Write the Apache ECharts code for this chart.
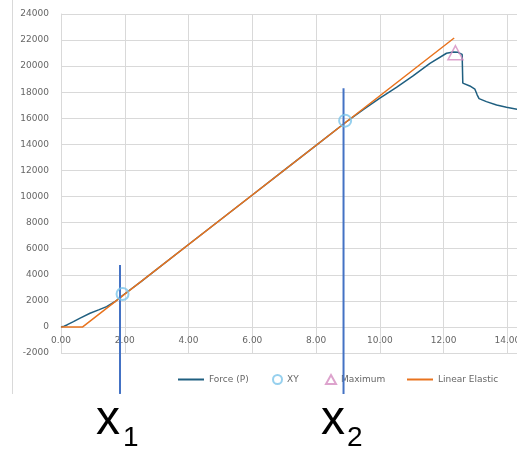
<!DOCTYPE html>
<html>
<head>
<meta charset="utf-8">
<script src="https://cdn.jsdelivr.net/npm/echarts@6/dist/echarts.min.js"></script>
<style>
html,body{margin:0;padding:0;background:#fff;}
#chart{width:517px;height:450px;}
</style>
</head>
<body>
<div id="chart"></div>
<script>
// ---- data ----
const forceData = [
  [0, 0], [0.1, 60], [0.2, 170], [0.39, 410], [0.6, 680], [0.91, 1050],
  [1.2, 1330], [1.43, 1560], [1.7, 1950], [1.95, 2450], [2.5, 3460],
  [3, 4410], [4, 6320], [5, 8220], [6, 10120], [7, 12030], [8, 13930],
  [9, 15830], [9.5, 16700], [10.0, 17540], [10.52, 18380], [11.04, 19250],
  [11.57, 20220], [12.09, 20990], [12.3, 21080], [12.45, 21060],
  [12.58, 20900], [12.6, 18700], [12.82, 18480], [12.98, 18230],
  [13.05, 17800], [13.11, 17510], [13.34, 17280], [13.66, 17020],
  [13.97, 16850], [14.3, 16700], [14.6, 16600]
];
const xyPoints = [[1.93, 2520], [8.91, 15820]];
const maximumPoint = [[12.37, 21030]];
const linearElastic = [[0, 0], [0.68, 0], [12.33, 22160]];
const marker1 = [[1.85, 4750], [1.85, -5140]];
const marker2 = [[8.86, 18310], [8.86, -5140]];
const xTicks = { min: 0, max: 14.3, interval: 2 };
const yTicks = { min: -2000, max: 24000, interval: 2000 };
const legendNames = ['Force (P)', 'XY', 'Maximum', 'Linear Elastic'];

const grey = '#666';
const gridColor = '#d9d9d9';
const labelFont = 'DejaVu Sans';
const gridTop = 14, gridBottom = 97, chartH = 450;

const chart = echarts.init(document.getElementById('chart'), null, { renderer: 'canvas' });

function legendAt(item, left, w, h, top) {
  return {
    data: [item], left: left, top: top, itemWidth: w, itemHeight: h, itemGap: 0,
    padding: 0,
    textStyle: { fontSize: 9, color: grey, fontFamily: labelFont }
  };
}

// distance of the zero line above the bottom of the plot (from the axis scale)
const plotH = chartH - gridTop - gridBottom;
const zeroOffset = (0 - yTicks.min) / (yTicks.max - yTicks.min) * plotH;

const option = {
  backgroundColor: '#fff',
  animation: false,
  grid: { left: 61, top: gridTop, right: 0, bottom: gridBottom, outerBoundsMode: 'none', containLabel: false },
  legend: [
    legendAt({ name: legendNames[0], icon: 'rect' }, 178, 26, 2, 375),
    legendAt({ name: legendNames[1] }, 272, 9, 9, 374),
    legendAt({ name: legendNames[2] }, 325, 10, 9, 374),
    legendAt({ name: legendNames[3], icon: 'rect' }, 407, 26, 2, 375)
  ],
  xAxis: {
    type: 'value', min: xTicks.min, max: xTicks.max, interval: xTicks.interval,
    offset: -zeroOffset,
    axisLine: { show: true, onZero: false, lineStyle: { color: gridColor, width: 1 } },
    axisTick: { show: false },
    axisLabel: {
      showMaxLabel: false, fontSize: 9, color: grey, fontFamily: labelFont, margin: 9,
      formatter: v => v.toFixed(2)
    },
    splitLine: { show: true, lineStyle: { color: gridColor, width: 1 } }
  },
  yAxis: {
    type: 'value', min: yTicks.min, max: yTicks.max, interval: yTicks.interval,
    axisLine: { show: true, onZero: false, lineStyle: { color: gridColor, width: 1 } },
    axisTick: { show: false },
    axisLabel: { fontSize: 9, color: grey, fontFamily: labelFont, margin: 12, formatter: v => String(v) },
    splitLine: { show: true, lineStyle: { color: gridColor, width: 1 } }
  },
  series: [
    {
      name: legendNames[0], type: 'line', data: forceData, symbol: 'none',
      lineStyle: { color: '#1f5f80', width: 1.5 }, itemStyle: { color: '#1f5f80' }, z: 3
    },
    {
      name: legendNames[3], type: 'line', data: linearElastic, symbol: 'none',
      lineStyle: { color: '#e8731e', width: 1.5 }, itemStyle: { color: '#e8731e' }, z: 4
    },
    {
      name: legendNames[1], type: 'scatter', data: xyPoints, symbol: 'circle', symbolSize: 12,
      itemStyle: { color: 'rgba(255,255,255,0)', borderColor: '#7cc4ea', borderWidth: 2 }, z: 6
    },
    {
      name: legendNames[2], type: 'scatter', data: maximumPoint, symbol: 'triangle', symbolSize: [15, 14],
      itemStyle: { color: 'rgba(255,255,255,0)', borderColor: '#d58cc0', borderWidth: 1.5 }, z: 6
    },
    {
      name: 'x1', type: 'line', data: marker1, symbol: 'none', clip: false,
      lineStyle: { color: '#4472c4', width: 2 }, z: 5
    },
    {
      name: 'x2', type: 'line', data: marker2, symbol: 'none', clip: false,
      lineStyle: { color: '#4472c4', width: 2 }, z: 5
    }
  ],
  graphic: [
    { type: 'line', shape: { x1: 12.5, y1: 0, x2: 12.5, y2: 394 }, style: { stroke: gridColor, lineWidth: 1 }, silent: true },
    { type: 'text', left: 96, top: 397, style: { text: 'x', font: '48px "Liberation Sans"', fill: '#000' } },
    { type: 'text', left: 123, top: 424, style: { text: '1', font: '28px "Liberation Sans"', fill: '#000' } },
    { type: 'text', left: 321, top: 397, style: { text: 'x', font: '48px "Liberation Sans"', fill: '#000' } },
    { type: 'text', left: 347, top: 424, style: { text: '2', font: '28px "Liberation Sans"', fill: '#000' } }
  ]
};
chart.setOption(option);
</script>
</body>
</html>
